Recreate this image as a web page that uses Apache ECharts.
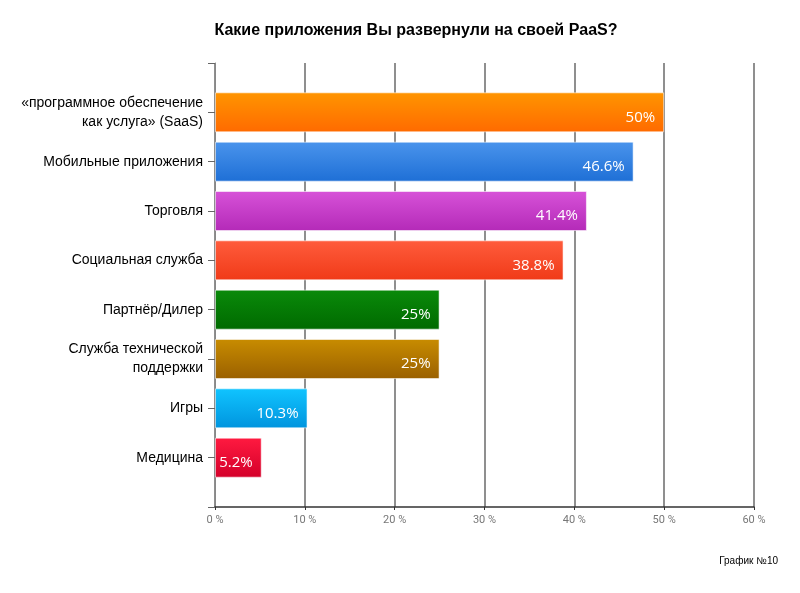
<!DOCTYPE html>
<html><head><meta charset="utf-8">
<script src="https://cdn.jsdelivr.net/npm/echarts@6/dist/echarts.min.js"></script>
<style>html,body{margin:0;padding:0;background:#fff}#c{width:800px;height:593px}</style>
</head><body><div id="c"></div>
<script>
const categories = ['«программное обеспечение\nкак услуга» (SaaS)','Мобильные приложения','Торговля','Социальная служба','Партнёр/Дилер','Служба технической\nподдержки','Игры','Медицина'];
const values = [50, 46.6, 41.4, 38.8, 25, 25, 10.3, 5.2];
const topColors = ['#ff9500','#4a94ec','#d752d8','#ff5c3c','#0a8a0a','#c88c00','#10c4ff','#ff1a40'];
const bottomColors = ['#ff6a00','#1e6fd6','#b42ab8','#f03a18','#006a00','#9a6000','#0094de','#d4002a'];
const xTicks = [0,10,20,30,40,50,60];

const cats = [''].concat(categories).concat(['']);
const data = [{value: null}].concat(values.map((v,i)=>({
  value: v,
  itemStyle: {
    color: new echarts.graphic.LinearGradient(0,0,0,1,[{offset:0,color:topColors[i]},{offset:1,color:bottomColors[i]}]),
    borderColor: 'rgba(255,255,255,0.55)', borderWidth: 1
  }
}))).concat([{value: null}]);

const chart = echarts.init(document.getElementById('c'));
chart.setOption({
  animation: false,
  title: {
    text: 'Какие приложения Вы развернули на своей PaaS?',
    left: 411, top: 18, textAlign: 'center',
    textStyle: {fontFamily: 'Liberation Sans, Arial', fontWeight: 'bold', fontSize: 16, color: '#000'}
  },
  graphic: [{
    type: 'text', right: 22, top: 556,
    style: {text: 'График №10', font: '10px "Liberation Sans", Arial', fill: '#000'}
  }],
  grid: {left: 215, right: 46, top: 63, bottom: 86},
  xAxis: {
    type: 'value', min: xTicks[0], max: xTicks[xTicks.length-1], interval: 10,
    axisLine: {show: true, lineStyle: {color: '#333', width: 1.5}},
    axisTick: {show: true, length: 3, lineStyle: {color: '#333'}},
    axisLabel: {formatter: v => v + ' %', color: '#777', fontSize: 11, margin: 8,
      fontFamily: '"Liberation Sans Narrow", "Roboto", sans-serif'},
    splitLine: {show: true, lineStyle: {color: '#6a6a6a', width: 1.5}}
  },
  yAxis: {
    type: 'category', data: cats, inverse: true, boundaryGap: false,
    axisLine: {show: true, lineStyle: {color: '#888', width: 1}},
    axisTick: {show: true, length: 7, inside: false, alignWithLabel: true, lineStyle: {color: '#666'}},
    axisLabel: {color: '#000', fontSize: 14, lineHeight: 19, margin: 12, align: 'right',
      fontFamily: '"Liberation Sans", Arial', interval: 0},
    splitLine: {show: false}
  },
  series: [{
    type: 'bar', data: data, barWidth: 40,
    label: {
      show: true, position: 'insideRight', distance: 9, offset: [0, 5],
      color: '#fff', fontSize: 15, fontFamily: '"Open Sans", sans-serif',
      formatter: p => p.value + '%'
    }
  }]
});
</script></body></html>
